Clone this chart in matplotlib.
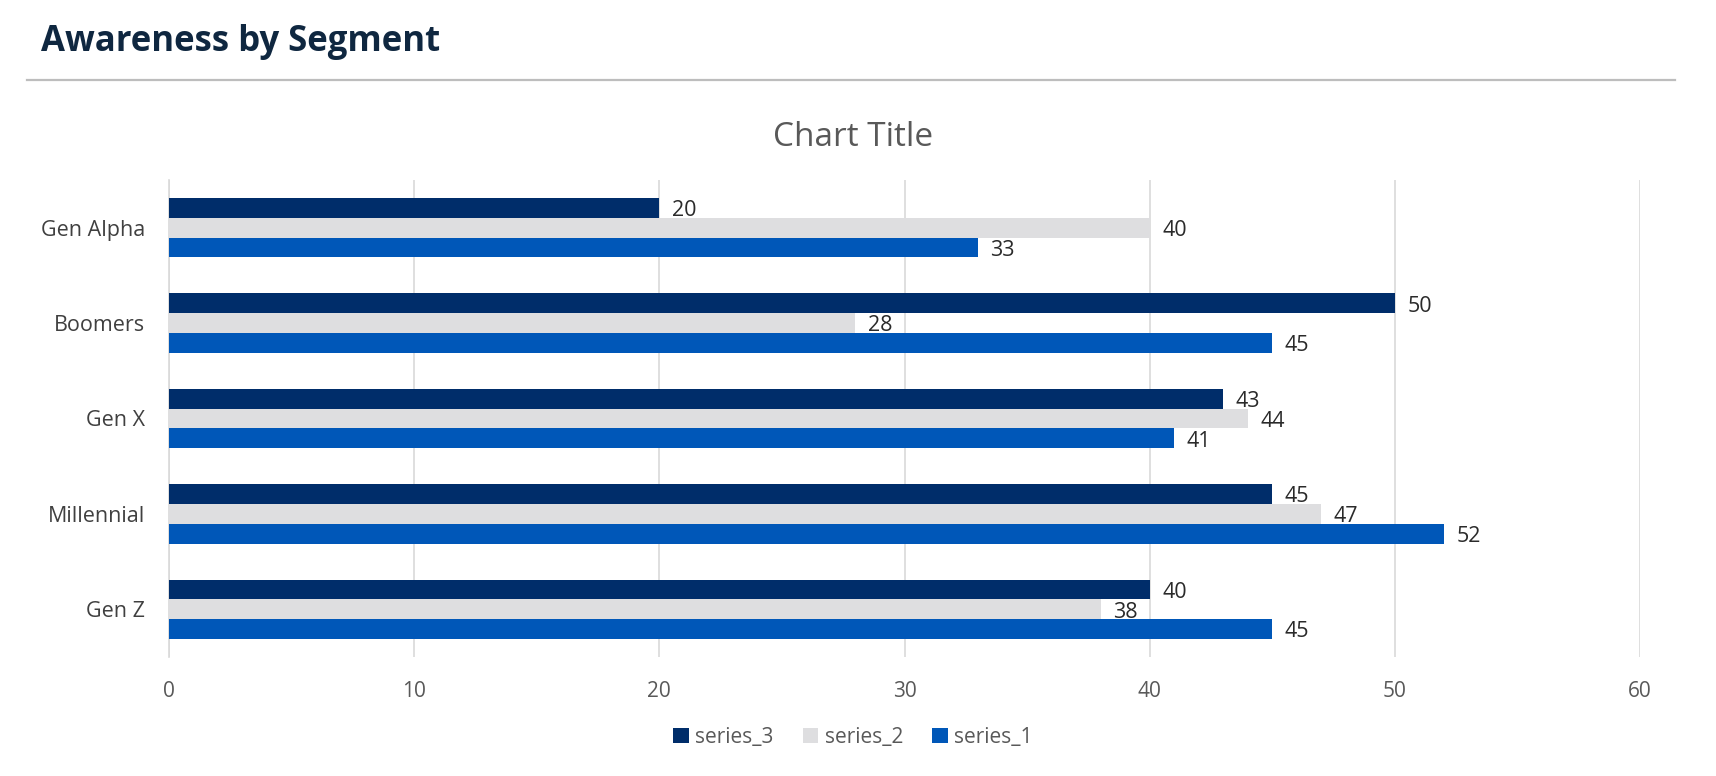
import matplotlib
matplotlib.use("Agg")
import matplotlib.pyplot as plt
import numpy as np
from matplotlib.patches import Patch
from matplotlib.lines import Line2D

categories = ["Gen Z", "Millennial", "Gen X", "Boomers", "Gen Alpha"]
series_1 = [45, 52, 41, 45, 33]
series_2 = [38, 47, 44, 28, 40]
series_3 = [40, 45, 43, 50, 20]
series_names = ["series_1", "series_2", "series_3"]
colors = {"series_1": "#0057B8", "series_2": "#DEDEE0", "series_3": "#002D6A"}
x_ticks = [0, 10, 20, 30, 40, 50, 60]

plt.rcParams['font.family'] = ['Open Sans', 'DejaVu Sans']

W, H = 1716, 776
fig = plt.figure(figsize=(W / 100, H / 100), dpi=100)
fig.patch.set_facecolor("white")

# header
fig.text(41 / W, 1 - 42 / H, "Awareness by Segment", fontsize=25,
         fontweight="bold", color="#0F2740", ha="left", va="center")
fig.add_artist(Line2D([27 / W, 1675 / W], [1 - 80 / H, 1 - 80 / H],
                      transform=fig.transFigure, color="#BDBDBD", linewidth=1.6))

ax = fig.add_axes([169 / W, 1 - 657 / H, (1640 - 169) / W, (657 - 180) / H])

n = len(series_names)
h = 1 / (n + 1.82)
ypos = np.arange(len(categories))
data = {"series_1": series_1, "series_2": series_2, "series_3": series_3}
for i, name in enumerate(series_names):
    offs = (i - 1) * h
    vals = data[name]
    bars = ax.barh(ypos + offs, vals, height=h, color=colors[name],
                   edgecolor="none", zorder=3)
    for b, v in zip(bars, vals):
        ax.annotate(str(v), (b.get_width(), b.get_y() + b.get_height() / 2),
                    xytext=(9, -2), textcoords="offset points",
                    ha="left", va="center", fontsize=15.5, color="#2A2A2A",
                    zorder=4)

ax.set_xlim(0, 60)
ax.set_ylim(-0.5, len(categories) - 0.5)
ax.set_xticks(x_ticks)
ax.set_xticklabels([str(t) for t in x_ticks])
ax.set_yticks(ypos)
ax.set_yticklabels(categories)
ax.tick_params(axis="x", length=0, pad=17, labelsize=15, labelcolor="#595959")
ax.tick_params(axis="y", length=0, pad=17, labelsize=15.5, labelcolor="#404040")
ax.grid(axis="x", color="#D9D9D9", linewidth=1.2, zorder=0)
ax.set_axisbelow(True)
for s in ["top", "right", "bottom"]:
    ax.spines[s].set_visible(False)
ax.spines["left"].set_color("#D9D9D9")
ax.spines["left"].set_linewidth(1.2)

fig.text(0.497, 1 - 137 / H, "Chart Title", fontsize=24, color="#595959",
         ha="center", va="center")

handles = [Patch(facecolor=colors[nm], edgecolor="none", label=nm)
           for nm in ["series_3", "series_2", "series_1"]]
fig.legend(handles=handles, loc="center", bbox_to_anchor=(0.497, 1 - 737 / H),
           ncol=3, frameon=False, fontsize=15, labelcolor="#595959",
           handlelength=0.75, handleheight=0.75, handletextpad=0.3,
           columnspacing=1.4)

fig.savefig("out.png", dpi=100, facecolor="white")
